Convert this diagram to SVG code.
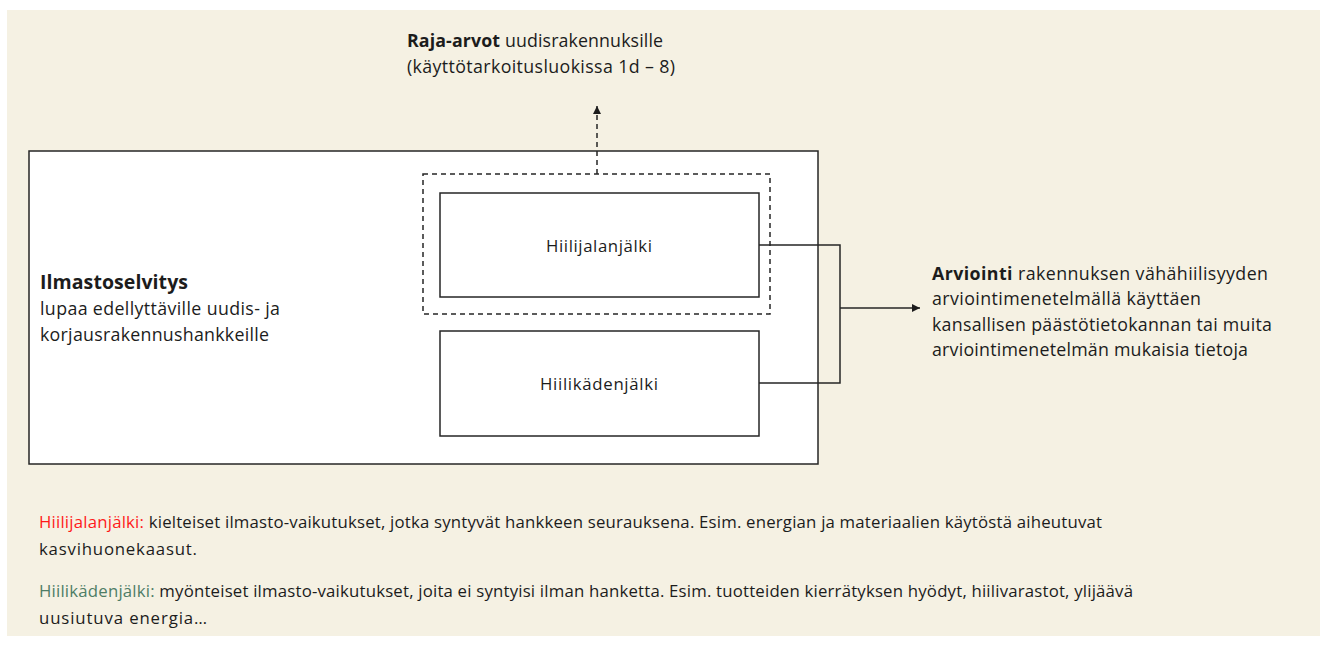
<svg xmlns="http://www.w3.org/2000/svg" width="1320" height="646" viewBox="0 0 1320 646">
<style>
text{font-family:"Open Sans","Noto Sans","Liberation Sans",sans-serif;fill:#1c1c1c}
.b{font-weight:bold}
.box{fill:#fff;stroke:#262626;stroke-width:1.5}
.dash{fill:none;stroke:#262626;stroke-width:1.5;stroke-dasharray:5 4}
.line{fill:none;stroke:#262626;stroke-width:1.5}
</style>
<defs>
<marker id="ah" markerWidth="10" markerHeight="10" refX="8" refY="4" orient="auto" markerUnits="userSpaceOnUse">
<path d="M0,0 L8,4 L0,8 z" fill="#1c1c1c"/>
</marker>
</defs>
<rect x="7" y="10" width="1313" height="626" fill="#f5f1e3"/>
<g id="ilmastoselvitys">
<rect class="box" x="29" y="151" width="789" height="313"/>
<text x="40" y="289" font-size="19.5" class="b" textLength="148">Ilmastoselvitys</text>
<text x="40" y="315" font-size="17.8" textLength="240">lupaa edellyttäville uudis- ja</text>
<text x="40" y="341" font-size="17.8" textLength="229">korjausrakennushankkeille</text>
</g>
<g id="raja-dashed">
<rect class="dash" x="423" y="174" width="347" height="140"/>
</g>
<g id="hiilijalanjalki">
<rect class="box" x="440" y="193" width="319" height="104"/>
<text x="599" y="252" font-size="16.8" text-anchor="middle" textLength="106">Hiilijalanjälki</text>
</g>
<g id="hiilikadenjalki">
<rect class="box" x="440" y="331" width="319" height="105"/>
<text x="599" y="390" font-size="16.8" text-anchor="middle" textLength="118">Hiilikädenjälki</text>
</g>
<g id="raja-arvot">
<text x="407" y="47" font-size="17.8" textLength="256"><tspan class="b">Raja-arvot</tspan> uudisrakennuksille</text>
<text x="407" y="73" font-size="17.8" textLength="268">(käyttötarkoitusluokissa 1d – 8)</text>
</g>
<g id="arviointi">
<text x="932" y="280" font-size="17.8" textLength="336"><tspan class="b">Arviointi</tspan> rakennuksen vähähiilisyyden</text>
<text x="932" y="305" font-size="17.8" textLength="269">arviointimenetelmällä käyttäen</text>
<text x="932" y="331" font-size="17.8" textLength="340">kansallisen päästötietokannan tai muita</text>
<text x="932" y="356" font-size="17.8" textLength="316">arviointimenetelmän mukaisia tietoja</text>
</g>
<g id="connectors">
<path class="dash" d="M597,174 V106" marker-end="url(#ah)"/>
<path class="line" d="M759,245 H840 V383 H759"/>
<path class="line" d="M840,308 H920" marker-end="url(#ah)"/>
</g>
<g id="legend">
<text x="39" y="528" font-size="16.8" textLength="1063"><tspan fill="#ff1a1a">Hiilijalanjälki:</tspan> kielteiset ilmasto-vaikutukset, jotka syntyvät hankkeen seurauksena. Esim. energian ja materiaalien käytöstä aiheutuvat</text>
<text x="39" y="555" font-size="16.8" textLength="158">kasvihuonekaasut.</text>
<text x="39" y="597" font-size="16.8" textLength="1094"><tspan fill="#4e7d66">Hiilikädenjälki:</tspan> myönteiset ilmasto-vaikutukset, joita ei syntyisi ilman hanketta. Esim. tuotteiden kierrätyksen hyödyt, hiilivarastot, ylijäävä</text>
<text x="39" y="624" font-size="16.8" textLength="168">uusiutuva energia…</text>
</g>
</svg>
